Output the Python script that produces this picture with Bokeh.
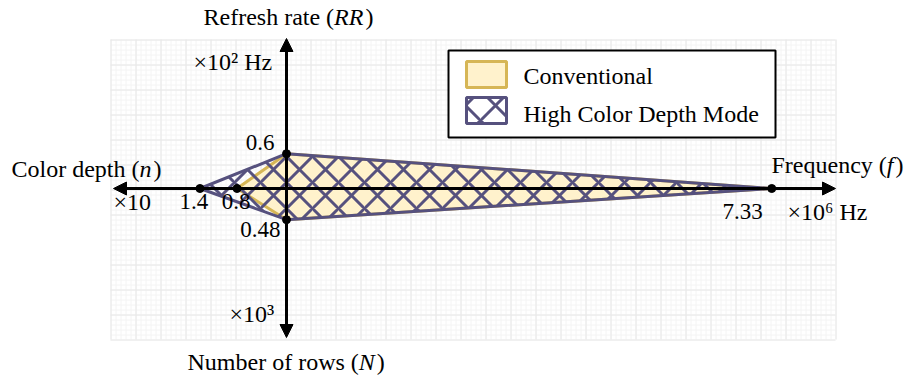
import numpy as np
from bokeh.plotting import figure
from bokeh.models import Range1d, Arrow, NormalHead
from bokeh.core.properties import value
from bokeh.embed import file_html
from bokeh.resources import INLINE

# ---------------- data ----------------
axis_keys = ["f", "RR", "n", "N"]
axis_titles = ["Frequency", "Refresh rate", "Color depth", "Number of rows"]
axis_symbols = ["f", "RR", "n", "N"]
unit_labels = ["\u00d710\u2076 Hz", "\u00d710\u00b2 Hz", "\u00d710", "\u00d710\u00b3"]
series_names = ["Conventional", "High Color Depth Mode"]
conventional = [7.33, 0.6, 0.8, 0.48]
high_color_depth = [7.33, 0.6, 1.4, 0.48]

# ---------------- layout / style ----------------
W, H = 910, 379
CX, CY = 286, 188
direction = {"f": (1, 0), "RR": (0, -1), "n": (-1, 0), "N": (0, 1)}
px_per_unit = {"f": 66.2, "RR": 58.0, "n": 61.8, "N": 65.0}
FONT = value("Liberation Serif")
TITLE_SIZE = "24px"
NUM_SIZE = "23px"
TEXT_DY = -9
PURPLE = "#56517e"
GOLD = "#d6b656"
YELLOW = "#fff2cc"

p = figure(width=W, height=H, output_backend="svg", toolbar_location=None,
           x_range=Range1d(0, W), y_range=Range1d(H, 0),
           min_border=0, outline_line_color=None)
p.xaxis.visible = False
p.yaxis.visible = False
p.xgrid.visible = False
p.ygrid.visible = False

# background grid (draw.io style)
gx0, gx1, gy0, gy1 = 110, 835, 39, 339
for step, col in ((5, "#f4f4f4"), (25, "#e8e8e8")):
    xs = np.arange(gx0, gx1 + 0.1, step) + 0.5
    ys = np.arange(gy0, gy1 + 0.1, step) + 0.5
    p.segment(x0=xs, y0=gy0, x1=xs, y1=gy1, line_color=col, line_width=1)
    p.segment(x0=gx0, y0=ys, x1=gx1, y1=ys, line_color=col, line_width=1)


def to_xy(vals):
    xs, ys = [], []
    for k, v in zip(axis_keys, vals):
        dx, dy = direction[k]
        xs.append(CX + dx * v * px_per_unit[k])
        ys.append(CY + dy * v * px_per_unit[k])
    return xs, ys


cx_, cy_ = to_xy(conventional)
hx_, hy_ = to_xy(high_color_depth)

p.patch(cx_, cy_, fill_color=YELLOW, line_color=GOLD, line_width=3)
p.patch(hx_, hy_, fill_color=None, fill_alpha=0, hatch_pattern="x", hatch_color=PURPLE,
        hatch_weight=3, hatch_scale=26, line_color=PURPLE, line_width=3, line_join="round")

# axes with arrows
head = dict(size=13, fill_color="black", line_color="black", line_width=1)
p.add_layout(Arrow(start=NormalHead(**head), end=NormalHead(**head),
                   x_start=113, y_start=CY, x_end=835, y_end=CY,
                   line_width=3, line_color="black"))
p.add_layout(Arrow(start=NormalHead(**head), end=NormalHead(**head),
                   x_start=CX, y_start=38, x_end=CX, y_end=337,
                   line_width=3, line_color="black"))

# vertex dots
pts = {}
for xs, ys in ((cx_, cy_), (hx_, hy_)):
    for x, y in zip(xs, ys):
        pts[(round(x, 2), round(y, 2))] = (x, y)
p.scatter([v[0] for v in pts.values()], [v[1] for v in pts.values()],
          size=8, color="black")

# ---------------- text helpers ----------------
REG = {' ': 250, '(': 333, ')': 333, 'C': 667, 'F': 556, 'N': 722, 'R': 667, 'a': 444,
       'b': 500, 'c': 444, 'd': 500, 'e': 444, 'f': 333, 'h': 500, 'l': 278, 'm': 778,
       'n': 500, 'o': 500, 'p': 500, 'q': 500, 'r': 333, 's': 389, 't': 278, 'u': 500,
       'w': 722, 'y': 500}
ITA = {'R': 611, 'n': 500, 'f': 278, 'N': 667}


def tw(s, size, italic=False):
    table = ITA if italic else REG
    return sum(table.get(c, 500) for c in s) * size / 1000.0


def put(x, y, s, size=NUM_SIZE, align="left", style="normal"):
    p.text(x=[x], y=[y + TEXT_DY], text=[s], text_font=FONT, text_font_size=size,
           text_align=align, text_baseline="alphabetic", text_font_style=style,
           text_color="black")


def axis_title(x, y, title, sym):
    sz = float(TITLE_SIZE[:-2])
    parts = [(title + " (", False), (sym, True), (")", False)]
    cur = x
    for s, it in parts:
        put(cur, y, s, TITLE_SIZE, "left", "italic" if it else "normal")
        cur += tw(s, sz, it) + (2 if it else 0)


title_pos = {"f": (771, 173), "RR": (203, 25), "n": (11, 177), "N": (187, 370)}
for k, t, s in zip(axis_keys, axis_titles, axis_symbols):
    axis_title(title_pos[k][0], title_pos[k][1], t, s)

unit_pos = {"f": (787, 220, "left"), "RR": (193, 70, "left"),
            "n": (113, 210, "left"), "N": (229, 322, "left")}
for k, u in zip(axis_keys, unit_labels):
    x, y, a = unit_pos[k]
    put(x, y, u, TITLE_SIZE, a)

# tick labels next to the vertex dots
tick_offset = {"f": (-29, 32, "center"), "RR": (-12, -2, "right"),
               "N": (-6, 19, "right")}
n_offsets = {1.4: (-6, 22, "center"), 0.8: (-1, 22, "center")}
done = set()
for vals in (conventional, high_color_depth):
    xs, ys = to_xy(vals)
    for k, v, x, y in zip(axis_keys, vals, xs, ys):
        if (k, v) in done:
            continue
        done.add((k, v))
        dx, dy, a = n_offsets[v] if k == "n" else tick_offset[k]
        put(x + dx, y + dy, str(v), NUM_SIZE, a)

# ---------------- legend ----------------
p.quad(left=448, right=775, top=50, bottom=137, fill_color="white",
       line_color="black", line_width=2)
p.quad(left=466, right=506, top=61, bottom=87, fill_color=YELLOW,
       line_color=GOLD, line_width=3)
p.quad(left=466, right=506, top=97, bottom=123, fill_color="white",
       hatch_pattern="x", hatch_color=PURPLE, hatch_weight=3, hatch_scale=30,
       line_color=PURPLE, line_width=3)
put(523, 84, series_names[0], TITLE_SIZE)
put(523, 122, series_names[1], TITLE_SIZE)

open("out.html", "w").write(file_html(p, INLINE))
